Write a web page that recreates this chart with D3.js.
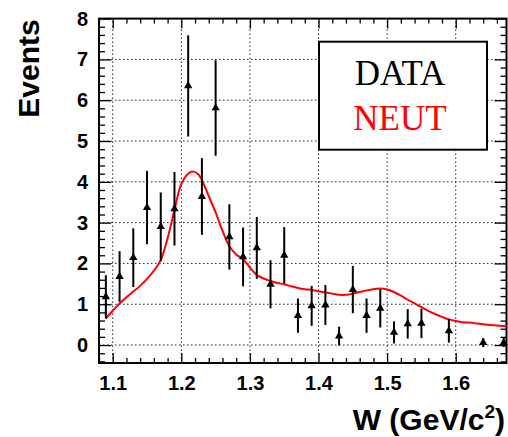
<!DOCTYPE html>
<html><head><meta charset="utf-8">
<script src="https://cdn.jsdelivr.net/npm/d3@7"></script>
<style>body{margin:0;background:#fff}svg{display:block}</style>
</head><body>
<script>
// ---- data ----
const dataW   = [1.09,1.11,1.13,1.15,1.17,1.19,1.21,1.23,1.25,1.27,1.29,1.31,1.33,1.35,1.37,1.39,1.41,1.43,1.45,1.47,1.49,1.51,1.53,1.55,1.59,1.64,1.67];
const dataN   = [1.18,1.68,2.14,3.37,2.90,3.34,6.35,3.64,5.81,2.65,2.16,2.38,1.49,2.20,0.72,0.96,0.98,0.22,1.36,0.72,0.90,0.31,0.52,0.53,0.35,0.06,0.06];
const dataErr = [0.53,0.62,0.72,0.90,0.84,0.90,1.24,0.94,1.17,0.80,0.72,0.76,0.59,0.69,0.42,0.49,0.49,0.23,0.58,0.42,0.47,0.27,0.36,0.36,0.29,0.11,0.11];
const neutW = [1.09,1.10,1.11,1.12,1.13,1.14,1.15,1.16,1.17,1.18,1.19,1.20,1.21,1.218,1.225,1.23,1.24,1.25,1.26,1.27,1.28,1.29,1.30,1.31,1.32,1.33,1.34,1.35,1.36,1.37,1.38,1.39,1.40,1.41,1.42,1.43,1.44,1.45,1.46,1.47,1.48,1.49,1.50,1.51,1.52,1.53,1.54,1.55,1.56,1.57,1.58,1.59,1.60,1.61,1.62,1.63,1.64,1.65,1.66,1.674];
const neutN = [0.65,0.84,1.02,1.17,1.31,1.45,1.62,1.82,2.08,2.62,3.31,3.95,4.20,4.25,4.18,4.04,3.65,3.25,2.80,2.42,2.22,2.10,1.90,1.72,1.63,1.57,1.52,1.49,1.44,1.40,1.37,1.35,1.32,1.29,1.26,1.23,1.23,1.26,1.30,1.34,1.37,1.385,1.36,1.30,1.21,1.11,1.02,0.93,0.84,0.76,0.69,0.63,0.59,0.56,0.55,0.53,0.51,0.49,0.48,0.46];
const xMajor = [1.1,1.2,1.3,1.4,1.5,1.6];
const yMajor = [0,1,2,3,4,5,6,7,8];
const xTitle = "W (GeV/c";
const yTitle = "Events";
const legendLabels = ["DATA","NEUT"];

// ---- layout ----
const W = 508, H = 437;
const L = 99, R = 506.5, T = 18.6, B = 363;
const svg = d3.select("body").append("svg").attr("width", W).attr("height", H);
const x = d3.scaleLinear().domain([1.08, 1.674]).range([L, R]);
const y = d3.scaleLinear().domain([-0.44, 8]).range([B, T]);
const xMinor = d3.range(1.08, 1.675, 0.02).map(v => +v.toFixed(2)).filter(v => !xMajor.some(m => Math.abs(m - v) < 1e-6));
const yMinor = d3.range(-0.4, 8.0001, 0.2).map(v => +v.toFixed(1)).filter(v => !yMajor.some(m => Math.abs(m - v) < 1e-6));
const font = "'Liberation Sans', Arial, Helvetica, sans-serif";

// grid
const grid = svg.append("g").attr("stroke", "#222").attr("stroke-width", 1).attr("stroke-dasharray", "1.5,2.5");
grid.selectAll(".gx").data(xMajor).join("line").attr("x1", d => x(d)).attr("x2", d => x(d)).attr("y1", B).attr("y2", T);
grid.selectAll(".gy").data(yMajor.filter(d => d < 8)).join("line").attr("y1", d => y(d)).attr("y2", d => y(d)).attr("x1", L).attr("x2", R);

// axes
function styleAxis(g) { g.select(".domain").remove(); g.selectAll("line").attr("stroke", "#000").attr("stroke-width", 1.3); g.selectAll("text").attr("font-family", font).attr("font-weight", "bold").attr("font-size", 20).attr("fill", "#000"); }
svg.append("g").attr("transform", `translate(0,${B})`).call(d3.axisBottom(x).tickValues(xMajor).tickSize(-10).tickPadding(13).tickFormat(d3.format(".1f"))).call(styleAxis);
svg.append("g").attr("transform", `translate(0,${B})`).call(d3.axisBottom(x).tickValues(xMinor).tickSize(-5).tickFormat("")).call(styleAxis);
svg.append("g").attr("transform", `translate(0,${T})`).call(d3.axisTop(x).tickValues(xMajor).tickSize(-10).tickFormat("")).call(styleAxis);
svg.append("g").attr("transform", `translate(0,${T})`).call(d3.axisTop(x).tickValues(xMinor).tickSize(-5).tickFormat("")).call(styleAxis);
svg.append("g").attr("transform", `translate(${L},0)`).call(d3.axisLeft(y).tickValues(yMajor).tickSize(-12).tickPadding(11).tickFormat(d3.format("d"))).call(styleAxis);
svg.append("g").attr("transform", `translate(${L},0)`).call(d3.axisLeft(y).tickValues(yMinor).tickSize(-6).tickFormat("")).call(styleAxis);
svg.append("g").attr("transform", `translate(${R},0)`).call(d3.axisRight(y).tickValues(yMajor).tickSize(-12).tickFormat("")).call(styleAxis);
svg.append("g").attr("transform", `translate(${R},0)`).call(d3.axisRight(y).tickValues(yMinor).tickSize(-6).tickFormat("")).call(styleAxis);

// frame
svg.append("rect").attr("x", L).attr("y", T).attr("width", R - L).attr("height", B - T).attr("fill", "none").attr("stroke", "#000").attr("stroke-width", 2);

// legend
const lg = svg.append("g");
lg.append("rect").attr("x", 319).attr("y", 41.7).attr("width", 168).attr("height", 108).attr("fill", "#fff").attr("stroke", "#000").attr("stroke-width", 2);
lg.append("text").attr("x", 400).attr("y", 84.5).attr("text-anchor", "middle").attr("font-family", "'Liberation Serif', 'Times New Roman', serif").attr("font-size", 35).attr("fill", "#000").text(legendLabels[0]);
lg.append("text").attr("x", 400).attr("y", 130).attr("text-anchor", "middle").attr("font-family", "'Liberation Serif', 'Times New Roman', serif").attr("font-size", 35).attr("fill", "#ff0000").text(legendLabels[1]);

// NEUT curve
const line = d3.line().x(d => x(d[0])).y(d => y(d[1])).curve(d3.curveCatmullRom);
svg.append("path").datum(neutW.map((w, i) => [w, neutN[i]])).attr("d", line).attr("fill", "none").attr("stroke", "#ff0000").attr("stroke-width", 2);

// data points
const pts = dataW.map((w, i) => ({ w, n: dataN[i], e: dataErr[i] }));
svg.append("g").selectAll("line").data(pts).join("line")
  .attr("x1", d => x(d.w)).attr("x2", d => x(d.w))
  .attr("y1", d => y(d.n + d.e)).attr("y2", d => y(Math.max(d.n - d.e, -0.44)))
  .attr("stroke", "#000").attr("stroke-width", 2);
svg.append("g").selectAll("path").data(pts).join("path")
  .attr("transform", d => `translate(${x(d.w)},${y(d.n)})`)
  .attr("d", d3.symbol(d3.symbolTriangle, 30)).attr("fill", "#000");

// titles
const xt = svg.append("text").attr("x", 505).attr("y", 430).attr("text-anchor", "end")
  .attr("font-family", font).attr("font-weight", "bold").attr("font-size", 30).attr("fill", "#000");
xt.append("tspan").text(xTitle);
xt.append("tspan").attr("dy", -12).attr("font-size", 19).text("2");
xt.append("tspan").attr("dy", 12).text(")");
svg.append("text").attr("transform", "translate(39,68.5) rotate(-90)").attr("text-anchor", "middle")
  .attr("font-family", font).attr("font-weight", "bold").attr("font-size", 30).attr("fill", "#000").text(yTitle);
</script>
</body></html>
